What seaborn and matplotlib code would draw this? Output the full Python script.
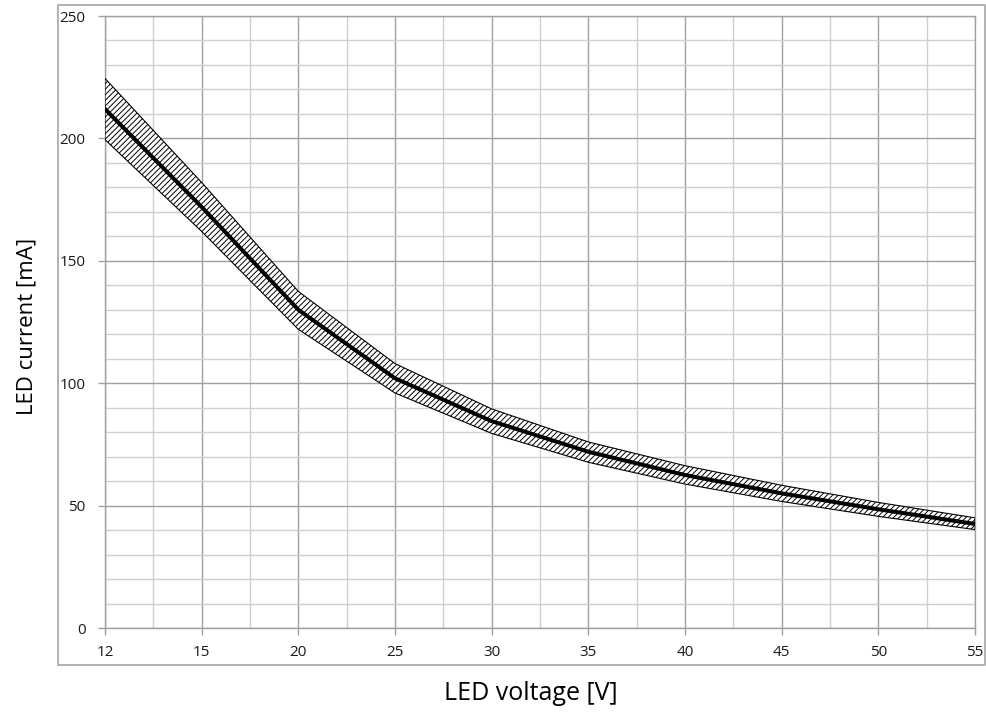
import numpy as np
import matplotlib
matplotlib.use("Agg")
import matplotlib.pyplot as plt
import seaborn as sns
from matplotlib.patches import Rectangle

# LED voltage categories and read-off currents (mA)
voltage = [12, 15, 20, 25, 30, 35, 40, 45, 50, 55]
current = [212, 172, 130, 102, 84.5, 72, 62.5, 55, 48.5, 42.5]
current_hi = [224.5, 182, 137.5, 108, 89.5, 76, 66.3, 58.3, 51.3, 45]
current_lo = [199.5, 162, 122, 96, 79.5, 67.7, 58.8, 51.7, 45.6, 40.2]
y_ticks = [0, 50, 100, 150, 200, 250]

sns.set_theme(style="white")
plt.rcParams["font.family"] = ["Open Sans", "DejaVu Sans"]
plt.rcParams["hatch.linewidth"] = 0.7

fig = plt.figure(figsize=(9.86, 7.14), dpi=100)
ax = fig.add_axes([105 / 986, 1 - 628 / 714, (975 - 105) / 986, (628 - 16) / 714])

pos = np.arange(len(voltage))

# tolerance band
ax.fill_between(pos, current_lo, current_hi, facecolor="white", edgecolor="black",
                hatch="//////", linewidth=0.8, zorder=3)
# nominal curve
sns.lineplot(x=pos, y=current, ax=ax, color="black", linewidth=2.9, zorder=4)

ax.set_xlim(0, len(voltage) - 1)
ax.set_ylim(0, 250)
ax.set_xticks(pos)
ax.set_xticklabels([str(v) for v in voltage])
ax.set_xticks(pos[:-1] + 0.5, minor=True)
ax.set_yticks(y_ticks)
ax.set_yticks(np.arange(0, 251, 10), minor=True)

ax.grid(which="major", color="#a0a0a0", linewidth=1.0, zorder=0)
ax.grid(which="minor", color="#d0d0d0", linewidth=1.0, zorder=0)
ax.set_axisbelow(True)

for s in ax.spines.values():
    s.set_color("#a0a0a0")
    s.set_linewidth(1.0)

ax.tick_params(which="major", axis="both", length=5, width=1, color="#a0a0a0",
               labelsize=11, labelcolor="#1a1a1a", pad=7)
ax.tick_params(axis="y", which="major", pad=9)
ax.tick_params(which="minor", length=0)
ax.tick_params(axis="x", which="major", bottom=True)
ax.tick_params(axis="y", which="major", left=True)

ax.set_xlabel("")
ax.set_ylabel("")
fig.text(531 / 986, 1 - 694 / 714, "LED voltage [V]", ha="center", va="center",
         fontsize=18, color="black")
fig.text(27 / 986, 1 - 326 / 714, "LED current [mA]", ha="center", va="center",
         rotation=90, fontsize=16, color="black")

# outer chart frame
fig.add_artist(Rectangle((58 / 986, 1 - 665 / 714), (985 - 58) / 986, (665 - 5) / 714,
                         transform=fig.transFigure, fill=False, edgecolor="#a6a6a6",
                         linewidth=1.2))

fig.savefig("out.png", dpi=100)
